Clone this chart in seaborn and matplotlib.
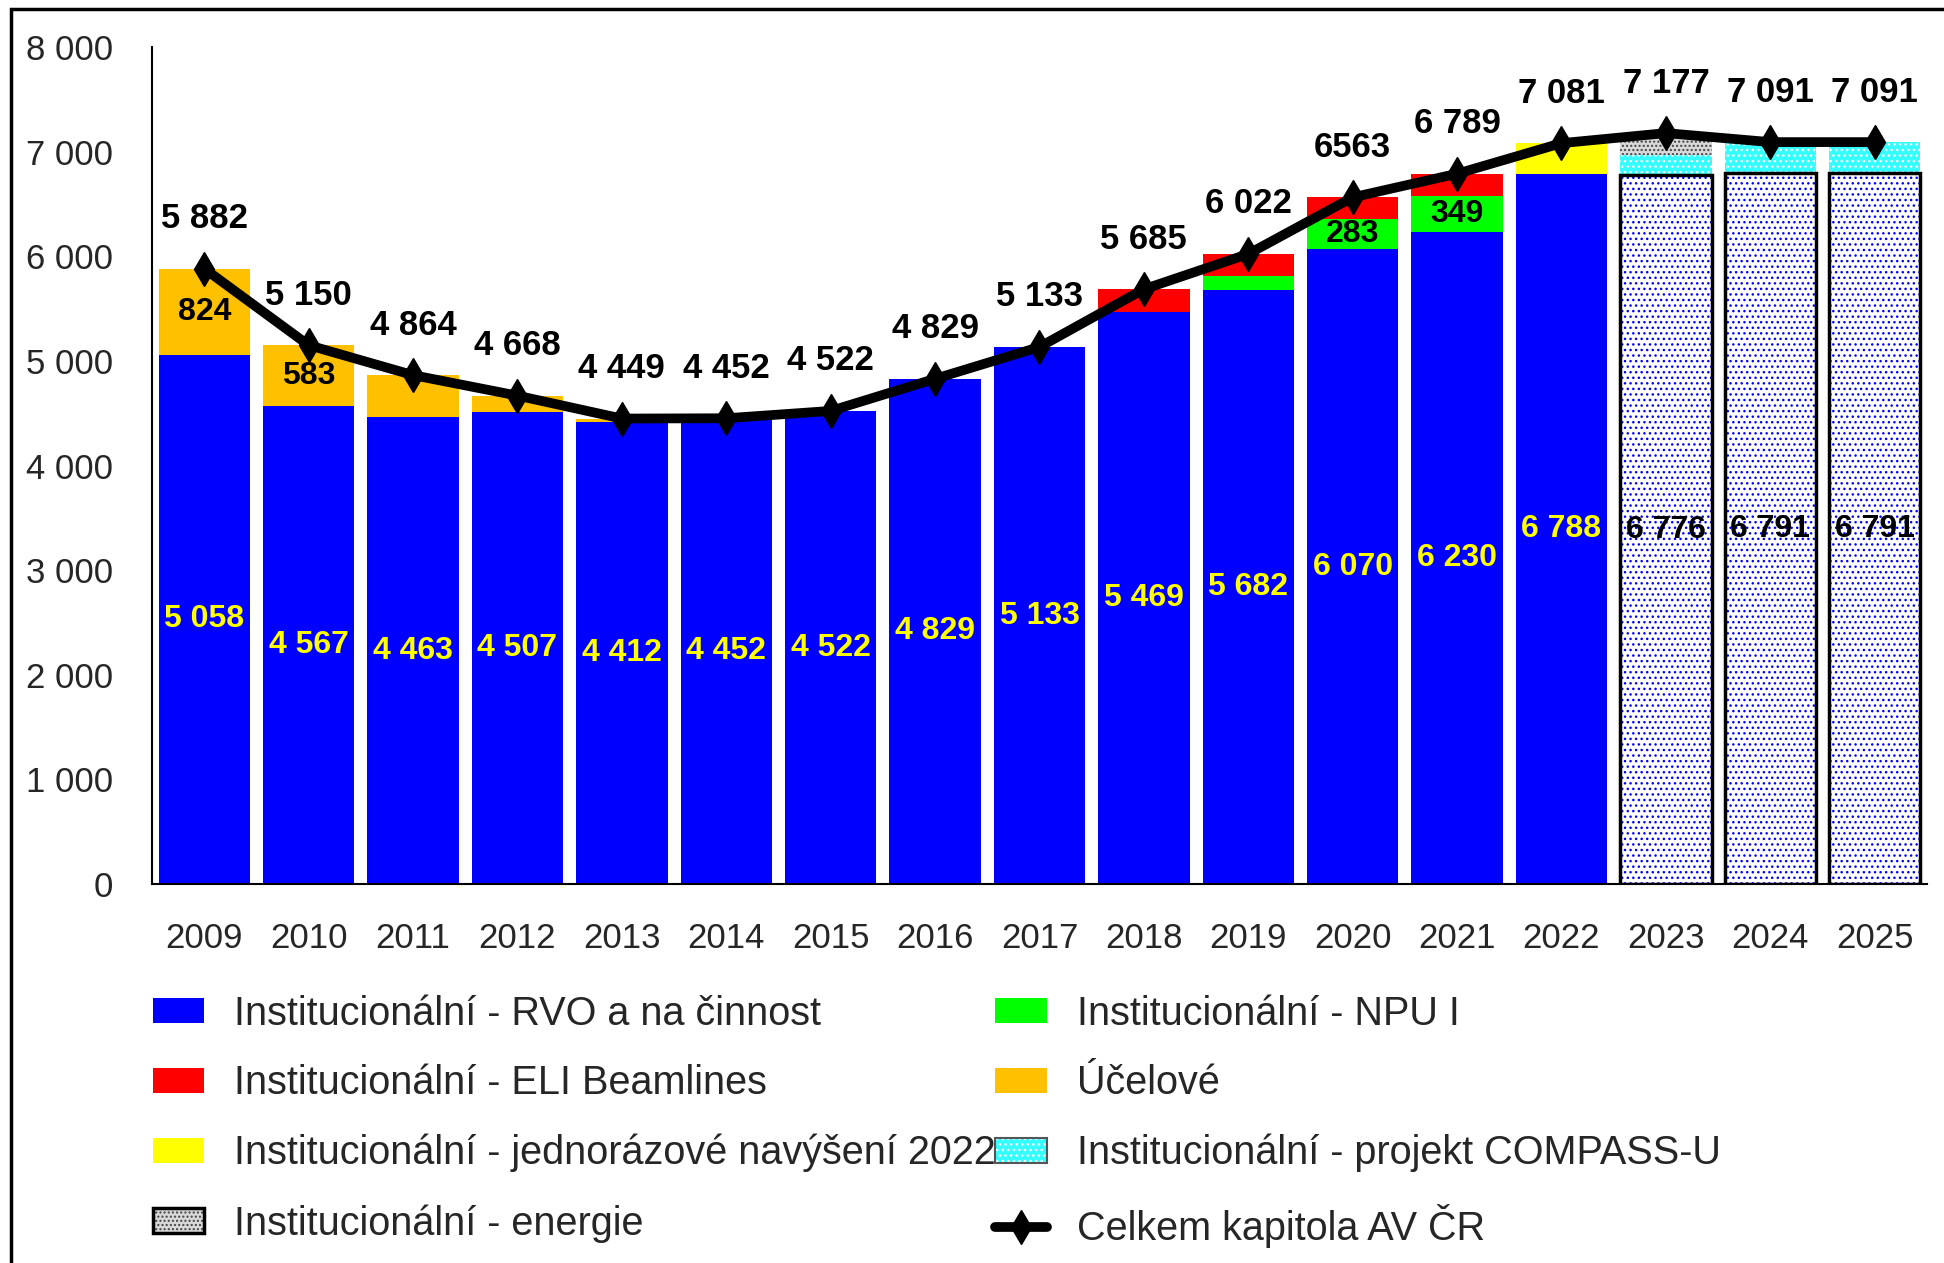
import numpy as np
import pandas as pd
import matplotlib
matplotlib.use("Agg")
import matplotlib.pyplot as plt
import seaborn as sns
from matplotlib.patches import Patch, Rectangle
from matplotlib.lines import Line2D
from matplotlib.legend_handler import HandlerTuple
from matplotlib.ticker import FuncFormatter

YEARS = ["2009", "2010", "2011", "2012", "2013", "2014", "2015", "2016", "2017",
         "2018", "2019", "2020", "2021", "2022", "2023", "2024", "2025"]

RVO     = [5058, 4567, 4463, 4507, 4412, 4452, 4522, 4829, 5133, 5469, 5682, 6070, 6230, 6788, 6776, 6791, 6791]
NPU     = [0, 0, 0, 0, 0, 0, 0, 0, 0, 0, 130, 283, 349, 0, 0, 0, 0]
ELI     = [0, 0, 0, 0, 0, 0, 0, 0, 0, 216, 210, 210, 210, 0, 0, 0, 0]
UCELOVE = [824, 583, 401, 161, 37, 0, 0, 0, 0, 0, 0, 0, 0, 0, 0, 0, 0]
JEDNOR  = [0, 0, 0, 0, 0, 0, 0, 0, 0, 0, 0, 0, 0, 293, 0, 0, 0]
COMPASS = [0, 0, 0, 0, 0, 0, 0, 0, 0, 0, 0, 0, 0, 0, 190, 300, 300]
ENERGIE = [0, 0, 0, 0, 0, 0, 0, 0, 0, 0, 0, 0, 0, 0, 211, 0, 0]

TOTAL_TEXT = ["5 882", "5 150", "4 864", "4 668", "4 449", "4 452", "4 522", "4 829", "5 133",
              "5 685", "6 022", "6563", "6 789", "7 081", "7 177", "7 091", "7 091"]

# years that are only a plan (drawn hatched)
PLAN_YEARS = ["2023", "2024", "2025"]

BLUE, RED, GREEN = "#0000ff", "#ff0000", "#00ff00"
ORANGE, YELLOW, CYAN, GREY = "#ffc000", "#ffff00", "#33ffff", "#c8c8c8"

LAYERS = [
    ("Institucionální - RVO a na činnost", RVO, BLUE),
    ("Institucionální - NPU I", NPU, GREEN),
    ("Institucionální - ELI Beamlines", ELI, RED),
    ("Účelové", UCELOVE, ORANGE),
    ("Institucionální - jednorázové navýšení 2022", JEDNOR, YELLOW),
    ("Institucionální - projekt COMPASS-U", COMPASS, CYAN),
    ("Institucionální - energie", ENERGIE, GREY),
]


def fmt(v):
    return f"{v:,.0f}".replace(",", " ")


sns.set_theme(style="white")
plt.rcParams["font.family"] = ["Liberation Sans", "DejaVu Sans"]
plt.rcParams["hatch.linewidth"] = 1.0

df = pd.DataFrame({"year": YEARS})
for name, vals, _ in LAYERS:
    df[name] = vals
cum = df[[l[0] for l in LAYERS]].cumsum(axis=1)
totals = cum.iloc[:, -1].values
plan = df["year"].isin(PLAN_YEARS).values

fig = plt.figure(figsize=(19.44, 12.63), dpi=100)
ax = fig.add_axes([0.0782, 0.300, 0.913, 0.6628])

# stacked bars: draw cumulative heights from the top layer down
layer_patches = {}
for name, vals, color in reversed(LAYERS):
    n0 = len(ax.patches)
    sns.barplot(x=df["year"], y=cum[name], color=color, saturation=1,
                width=0.875, linewidth=0, ax=ax)
    layer_patches[name] = ax.patches[n0:]

outline = []
for i, is_plan in enumerate(plan):
    if not is_plan:
        continue
    p = layer_patches[LAYERS[0][0]][i]
    p.set_facecolor("white")
    p.set_edgecolor(BLUE)
    p.set_hatch("...")
    outline.append((p, "black", 2.5))
    p = layer_patches[LAYERS[5][0]][i]
    p.set_edgecolor("white")
    p.set_hatch("...")
    p = layer_patches[LAYERS[6][0]][i]
    p.set_facecolor("#d8d8d8")
    p.set_edgecolor("#444444")
    p.set_hatch("....")

for p, c, lw in outline:
    ax.add_patch(Rectangle(p.get_xy(), p.get_width(), p.get_height(),
                           fill=False, edgecolor=c, linewidth=lw, zorder=3))

x = np.arange(len(YEARS))
sns.lineplot(x=x, y=totals, color="black", linewidth=7, marker="d", markersize=17,
             markeredgecolor="black", markeredgewidth=1, ax=ax, zorder=5)

inner = dict(fontsize=23, fontweight="bold", ha="center", va="center", zorder=6)
for i in x:
    ax.text(i, RVO[i] / 2, fmt(RVO[i]), color="black" if plan[i] else YELLOW, **inner)
    if UCELOVE[i] >= 500:
        ax.text(i, RVO[i] + UCELOVE[i] / 2, fmt(UCELOVE[i]), color="black", **inner)
    if NPU[i] >= 200:
        ax.text(i, RVO[i] + NPU[i] / 2, fmt(NPU[i]), color="black", **inner)
    ax.annotate(TOTAL_TEXT[i], (i, totals[i]), xytext=(0, 36), textcoords="offset points",
                color="black", fontsize=25, fontweight="bold", ha="center", va="center", zorder=6)

ax.set_xlim(-0.5, 16.5)
ax.set_ylim(0, 8000)
ax.set_yticks(range(0, 8001, 1000))
ax.yaxis.set_major_formatter(FuncFormatter(lambda v, _: fmt(v)))
ax.set_xlabel("")
ax.set_ylabel("")
ax.tick_params(axis="y", length=0, pad=28, labelsize=25)
ax.tick_params(axis="x", length=0, pad=27, labelsize=25)
sns.despine(ax=ax, top=True, right=True)
for s in ("left", "bottom"):
    ax.spines[s].set_color("black")
    ax.spines[s].set_linewidth(1.5)

# legend (column-first order)
h = {}
for name, _, color in LAYERS:
    h[name] = Patch(facecolor=color, edgecolor=color, linewidth=0)
h[LAYERS[5][0]] = (Patch(facecolor=CYAN, edgecolor="white", hatch="...", linewidth=0),
                   Patch(fill=False, edgecolor="#555555", linewidth=1.5))
h[LAYERS[6][0]] = (Patch(facecolor="#d8d8d8", edgecolor="#444444", hatch="....", linewidth=0),
                   Patch(fill=False, edgecolor="black", linewidth=2.5))
line_name = "Celkem kapitola AV ČR"
h[line_name] = Line2D([], [], color="black", linewidth=7, marker="d", markersize=17)

order = [LAYERS[0][0], LAYERS[2][0], LAYERS[4][0], LAYERS[6][0],
         LAYERS[1][0], LAYERS[3][0], LAYERS[5][0], line_name]
fig.legend([h[k] for k in order], order, ncol=2, loc="upper left",
           bbox_to_anchor=(0.0785, 0.2125), frameon=False, fontsize=28.5,
           handlelength=1.3, handleheight=0.6, handletextpad=0.75,
           columnspacing=0.0, labelspacing=0.8, borderpad=0, borderaxespad=0,
           handler_map={tuple: HandlerTuple(ndivide=1, pad=0)})

# outer frame
fig.add_artist(Rectangle((11 / 1944, -0.05), 1.1, 1 - 9 / 1263 + 0.05, transform=fig.transFigure,
                         fill=False, edgecolor="black", linewidth=2.5))

fig.savefig("out.png", dpi=100)
